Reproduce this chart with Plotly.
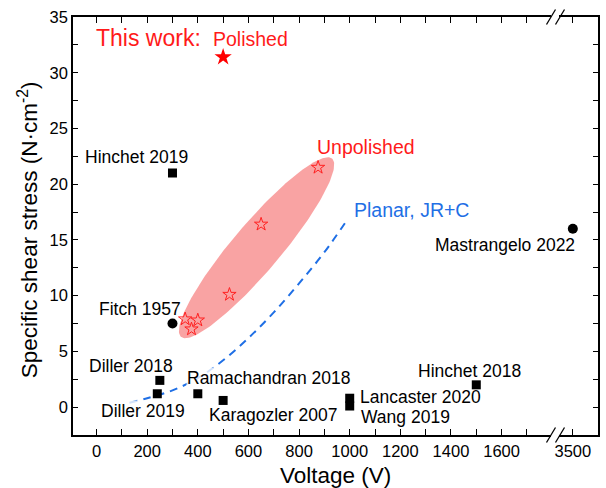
import numpy as np
import plotly.graph_objects as go

FONT = "Arial, Liberation Sans, sans-serif"

# ---------------- data ----------------
# literature, square markers
sq_names = ["Hinchet 2019", "Diller 2018", "Diller 2019", "Ramachandran 2018",
            "Karagozler 2007", "Lancaster 2020", "Wang 2019", "Hinchet 2018"]
sq_voltage = [300, 250, 240, 400, 500, 1000, 1000, 1500]
sq_stress = [21.0, 2.4, 1.2, 1.2, 0.6, 0.8, 0.1, 2.0]

# literature, circle markers
fitch_voltage = [300]
fitch_stress = [7.5]
mastr_voltage = [3500]
mastr_stress = [16.0]

# this work
polished_voltage = [500]
polished_stress = [31.4]
unpol_voltage = [875, 650, 525, 350, 400, 375]
unpol_stress = [21.5, 16.4, 10.1, 7.9, 7.8, 7.0]

# Planar, JR+C model curve
planar_voltage = [130, 200, 300, 400, 500, 600, 700, 800, 900, 990]
planar_stress = [0.4, 0.8, 1.5, 2.6, 4.2, 6.2, 8.5, 11.1, 13.9, 16.8]

x_ticks = [0, 200, 400, 600, 800, 1000, 1200, 1400, 1600]
x2_ticks = [3500]
y_ticks = [0, 5, 10, 15, 20, 25, 30, 35]

# ---------------- layout geometry ----------------
W, H = 606, 488
ML, MR, MT, MB = 73, 8, 11, 53
PW, PH = W - ML - MR, H - MT - MB
X1_RANGE = [-93, 1797]
X2_RANGE = [3445, 3600]
Y_RANGE = [-2.5, 35]
D1 = [0, 0.9114]
D2 = [0.9257, 1]

fig = go.Figure()

# ellipse around unpolished points (built in screen space, mapped to data)
px_per_v = D1[1] * PW / (X1_RANGE[1] - X1_RANGE[0])
px_per_s = PH / (Y_RANGE[1] - Y_RANGE[0])
e_p1 = (334, 6.3)     # ends of major axis (data units)
e_p2 = (930, 22.3)
e_b = 24              # semi-minor (px)
ax1, ay1 = e_p1[0] * px_per_v, e_p1[1] * px_per_s
ax2, ay2 = e_p2[0] * px_per_v, e_p2[1] * px_per_s
cx, cy = (ax1 + ax2) / 2, (ay1 + ay2) / 2
a = np.hypot(ax2 - ax1, ay2 - ay1) / 2
th = np.arctan2(ay2 - ay1, ax2 - ax1)
t = np.linspace(0, 2 * np.pi, 200)
ex = cx + a * np.cos(t) * np.cos(th) - e_b * np.sin(t) * np.sin(th)
ey = cy + a * np.cos(t) * np.sin(th) + e_b * np.sin(t) * np.cos(th)
fig.add_trace(go.Scatter(x=ex / px_per_v, y=ey / px_per_s, mode="lines",
                         fill="toself", fillcolor="#F9A3A3",
                         line=dict(width=0, color="#F9A3A3"),
                         hoverinfo="skip", xaxis="x", yaxis="y"))

# Planar curve
fig.add_trace(go.Scatter(x=planar_voltage, y=planar_stress, mode="lines",
                         line=dict(color="#1F6FE5", width=2, dash="8px,6px", shape="spline"),
                         xaxis="x", yaxis="y"))

# squares
fig.add_trace(go.Scatter(x=sq_voltage, y=sq_stress, mode="markers",
                         marker=dict(symbol="square", size=9, color="black"),
                         xaxis="x", yaxis="y"))
# circles
fig.add_trace(go.Scatter(x=fitch_voltage, y=fitch_stress, mode="markers",
                         marker=dict(symbol="circle", size=10, color="black"),
                         xaxis="x", yaxis="y"))
fig.add_trace(go.Scatter(x=mastr_voltage, y=mastr_stress, mode="markers",
                         marker=dict(symbol="circle", size=10, color="black"),
                         xaxis="x2", yaxis="y2"))
# stars
fig.add_trace(go.Scatter(x=unpol_voltage, y=unpol_stress, mode="markers",
                         marker=dict(symbol="star-open", size=10, color="#FF2020",
                                     line=dict(width=1, color="#FF2020")),
                         xaxis="x", yaxis="y"))
fig.add_trace(go.Scatter(x=polished_voltage, y=polished_stress, mode="markers",
                         marker=dict(symbol="star", size=13, color="#FF0000",
                                     line=dict(width=0)),
                         xaxis="x", yaxis="y"))

# ---------------- annotations ----------------
ann = []
sq_offsets = [(-36, 16), (-29, 14), (-14, -17), (71, 16), (50, -15), (71, 1), (56, -11), (-7, 14)]
sq_bg = ["rgba(0,0,0,0)", "rgba(0,0,0,0)", "rgba(255,255,255,0.8)", "rgba(255,255,255,0.8)",
         "rgba(0,0,0,0)", "rgba(0,0,0,0)", "rgba(0,0,0,0)", "rgba(0,0,0,0)"]
for name, xv, yv, (dx, dy), bg in zip(sq_names, sq_voltage, sq_stress, sq_offsets, sq_bg):
    ann.append(dict(x=xv, y=yv, xref="x", yref="y", text=name, showarrow=False,
                    xshift=dx, yshift=dy, bgcolor=bg, borderpad=0,
                    font=dict(size=17.5, color="black")))
ann.append(dict(x=fitch_voltage[0], y=fitch_stress[0], xref="x", yref="y", text="Fitch 1957",
                showarrow=False, xshift=-32, yshift=15, font=dict(size=17.5, color="black")))
ann.append(dict(x=mastr_voltage[0], y=mastr_stress[0], xref="x2", yref="y2", text="Mastrangelo 2022",
                showarrow=False, xshift=-68, yshift=-16, font=dict(size=17.5, color="black")))
ann.append(dict(x=polished_voltage[0], y=polished_stress[0], xref="x", yref="y", text="This work:",
                showarrow=False, xshift=-75, yshift=19, font=dict(size=23, color="#FF1A1A")))
ann.append(dict(x=polished_voltage[0], y=polished_stress[0], xref="x", yref="y", text="Polished",
                showarrow=False, xshift=27, yshift=18, font=dict(size=19.5, color="#FF1A1A")))
ann.append(dict(x=unpol_voltage[0], y=unpol_stress[0], xref="x", yref="y", text="Unpolished",
                showarrow=False, xshift=48, yshift=20, font=dict(size=19.5, color="#FF1A1A")))
ann.append(dict(x=planar_voltage[-1], y=planar_stress[-1], xref="x", yref="y", text="Planar, JR+C",
                showarrow=False, xshift=64, yshift=10, font=dict(size=19.5, color="#1F6FE5")))
# axis titles
ann.append(dict(x=0.5, y=0, xref="paper", yref="paper", text="Voltage (V)", showarrow=False,
                yanchor="middle", yshift=-40, font=dict(size=22.5, color="black")))
ann.append(dict(x=0, y=0.49, xref="paper", yref="paper", text="Specific shear stress (N·cm<sup>-2</sup>)",
                showarrow=False, textangle=-90, xanchor="center", xshift=-45,
                font=dict(size=22.5, color="black")))

# ---------------- axis break marks ----------------
shapes = []
for yp in (0, 1):
    for cxp in (551, 560):
        shapes.append(dict(type="line", xref="paper", yref="paper",
                           xsizemode="pixel", ysizemode="pixel",
                           xanchor=(cxp - ML) / PW, yanchor=yp,
                           x0=-4.5, x1=4.5, y0=-7.5, y1=7.5,
                           line=dict(color="black", width=1.3)))

axis_common = dict(showline=True, linecolor="black", linewidth=1.5, ticks="inside",
                   tickcolor="black", tickwidth=1.2, showgrid=False, zeroline=False,
                   tickfont=dict(size=16.5, color="black"))

fig.update_layout(
    width=W, height=H, margin=dict(l=ML, r=MR, t=MT, b=MB),
    plot_bgcolor="white", paper_bgcolor="white", showlegend=False,
    font=dict(family=FONT, color="black"),
    xaxis=dict(domain=D1, range=X1_RANGE, anchor="y", tickvals=x_ticks, ticklen=6,
               mirror="ticks",
               minor=dict(dtick=100, tick0=0, ticks="inside", ticklen=6, tickwidth=1.2,
                          tickcolor="black", showgrid=False),
               **axis_common),
    xaxis2=dict(domain=D2, range=X2_RANGE, anchor="y2", tickvals=x2_ticks, ticklen=6,
                mirror="ticks", **axis_common),
    yaxis=dict(domain=[0, 1], range=Y_RANGE, anchor="x", tickvals=y_ticks, ticklen=5,
               ticklabeloverflow="allow",
               minor=dict(dtick=2.5, tick0=0, ticks="inside", ticklen=5, tickwidth=1.2,
                          tickcolor="black", showgrid=False),
               **axis_common),
    yaxis2=dict(domain=[0, 1], range=Y_RANGE, anchor="x2", side="right", tickvals=y_ticks,
                ticklen=5, showticklabels=False,
                minor=dict(dtick=2.5, tick0=0, ticks="inside", ticklen=5, tickwidth=1.2,
                           tickcolor="black", showgrid=False),
                **axis_common),
    annotations=ann,
    shapes=shapes,
)

fig.write_html("out.html", config={"displayModeBar": False},
               post_script="document.body.style.margin='0';document.body.style.overflow='hidden';")
